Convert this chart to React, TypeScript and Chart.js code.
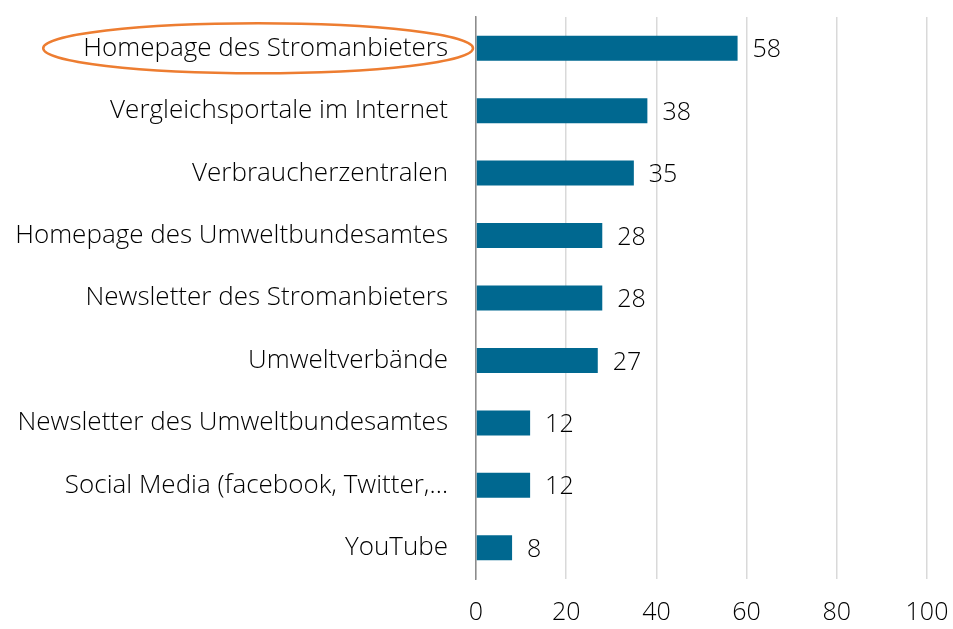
import React, { useEffect, useRef } from "react";
import { Chart, registerables } from "chart.js";

Chart.register(...registerables);

const categories = [
  "Homepage des Stromanbieters",
  "Vergleichsportale im Internet",
  "Verbraucherzentralen",
  "Homepage des Umweltbundesamtes",
  "Newsletter des Stromanbieters",
  "Umweltverbände",
  "Newsletter des Umweltbundesamtes",
  "Social Media (facebook, Twitter,…",
  "YouTube",
];
const values = [58, 38, 35, 28, 28, 27, 12, 12, 8];
const xTicks = [0, 20, 40, 60, 80, 100];
const highlightIndex = 0;

const FONT = "'Open Sans', 'Noto Sans', sans-serif";
const FONT_SIZE = 26;
const WEIGHT = "300";

const valueLabels = {
  id: "valueLabels",
  afterDatasetsDraw(chart: any) {
    const ctx = chart.ctx;
    const meta = chart.getDatasetMeta(0);
    ctx.save();
    ctx.font = `${WEIGHT} ${FONT_SIZE - 1}px ${FONT}`;
    ctx.fillStyle = "#000";
    ctx.textAlign = "left";
    ctx.textBaseline = "middle";
    meta.data.forEach((bar: any, i: number) => {
      ctx.fillText(String(values[i]), bar.x + 15, bar.y + 2);
    });
    ctx.restore();
  },
};

const ellipsePlugin = {
  id: "ellipseHighlight",
  afterDraw(chart: any) {
    const ctx = chart.ctx;
    const yScale = chart.scales.y;
    const cy = yScale.getPixelForValue(highlightIndex);
    ctx.save();
    ctx.font = `${WEIGHT} ${FONT_SIZE}px ${FONT}`;
    const w = ctx.measureText(categories[highlightIndex]).width;
    const textRight = chart.chartArea.left - 28;
    const textLeft = textRight - w;
    const left = textLeft - 40;
    const right = textRight + 25;
    ctx.beginPath();
    ctx.ellipse((left + right) / 2, cy, (right - left) / 2, 25, 0, 0, Math.PI * 2);
    ctx.strokeStyle = "#ED7D31";
    ctx.lineWidth = 2.5;
    ctx.stroke();
    ctx.restore();
  },
};

export default function App() {
  const ref = useRef<HTMLCanvasElement>(null);
  useEffect(() => {
    if (!ref.current) return;
    const chart = new Chart(ref.current, {
      type: "bar",
      data: {
        labels: categories,
        datasets: [
          {
            data: values,
            backgroundColor: "#006890",
            barPercentage: 0.8,
            categoryPercentage: 0.5,
          },
        ],
      },
      options: {
        indexAxis: "y",
        responsive: false,
        animation: false,
        layout: { padding: { top: 17, right: 26, left: 0, bottom: 0 } },
        plugins: { legend: { display: false }, tooltip: { enabled: false } },
        scales: {
          x: {
            min: 0,
            max: 100,
            afterBuildTicks(scale: any) {
              scale.ticks = xTicks.map((v) => ({ value: v }));
            },
            afterFit(scale: any) {
              scale.height = 50;
              scale.paddingLeft = 0;
              scale.paddingRight = 0;
            },
            grid: { color: "#d9d9d9", lineWidth: 1.5, drawTicks: false },
            border: { display: false },
            ticks: {
              padding: 19,
              color: "#000",
              font: { family: FONT, size: FONT_SIZE - 1, weight: WEIGHT as any },
              maxRotation: 0,
            },
          },
          y: {
            afterFit(scale: any) {
              scale.width = 476;
              scale.paddingTop = 0;
              scale.paddingBottom = 0;
            },
            grid: { display: false, drawTicks: false },
            border: { display: true, color: "#8c8c8c", width: 1.5 },
            ticks: {
              padding: 28,
              color: "#000",
              font: { family: FONT, size: FONT_SIZE, weight: WEIGHT as any },
              autoSkip: false,
            },
          },
        },
      },
      plugins: [valueLabels, ellipsePlugin],
    });
    return () => chart.destroy();
  }, []);
  return (
    <div style={{ position: "fixed", left: 0, top: 0, width: 953, height: 629, background: "#fff" }}>
      <canvas ref={ref} width={953} height={629} style={{ display: "block" }} />
    </div>
  );
}
